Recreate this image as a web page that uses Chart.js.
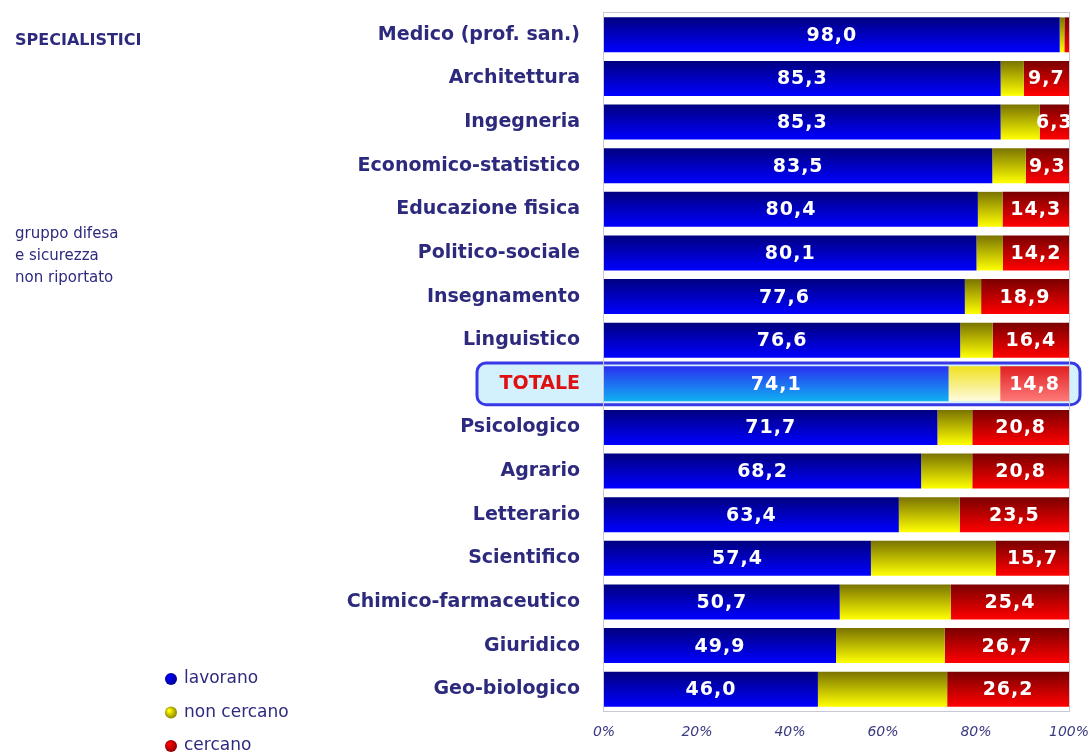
<!DOCTYPE html>
<html>
<head>
<meta charset="utf-8">
<script src="https://cdn.jsdelivr.net/npm/chart.js@4"></script>
<style>
  body { margin: 0; background: #fff; }
  canvas { display: block; }
</style>
</head>
<body>
<canvas id="chart" width="1089" height="752"></canvas>
<script>
const categories = ['Medico (prof. san.)', 'Architettura', 'Ingegneria', 'Economico-statistico',
  'Educazione fisica', 'Politico-sociale', 'Insegnamento', 'Linguistico', 'TOTALE',
  'Psicologico', 'Agrario', 'Letterario', 'Scientifico', 'Chimico-farmaceutico',
  'Giuridico', 'Geo-biologico'];
const lavorano   = [98.0, 85.3, 85.3, 83.5, 80.4, 80.1, 77.6, 76.6, 74.1, 71.7, 68.2, 63.4, 57.4, 50.7, 49.9, 46.0];
const nonCercano = [1.0, 5.0, 8.4, 7.2, 5.3, 5.7, 3.5, 7.0, 11.1, 7.5, 11.0, 13.1, 26.9, 23.9, 23.4, 27.8];
const cercano    = [1.0, 9.7, 6.3, 9.3, 14.3, 14.2, 18.9, 16.4, 14.8, 20.8, 20.8, 23.5, 15.7, 25.4, 26.7, 26.2];
const seriesNames = ['lavorano', 'non cercano', 'cercano'];
const xTicks = [0, 20, 40, 60, 80, 100];
const sideTitle = 'SPECIALISTICI';
const sideNote = ['gruppo difesa', 'e sicurezza', 'non riportato'];

const totalIndex = categories.indexOf('TOTALE');
const navy = '#2d2a7e';

// top colour / bottom colour for each series, normal rows and the TOTALE row
const shades = [
  { top: '#000080', bottom: '#0000ff', tTop: '#2a30f0', tBottom: '#10b0f2' },
  { top: '#7a7400', bottom: '#ffff00', tTop: '#f0e020', tBottom: '#fffce0' },
  { top: '#7a0000', bottom: '#ff0000', tTop: '#e02020', tBottom: '#ff7a7a' }
];

function barFill(i) {
  return (ctx) => {
    const s = shades[i];
    const chart = ctx.chart;
    const y = chart.scales.y;
    if (ctx.type !== 'data' || !y || !chart.chartArea) return s.bottom;
    const c = y.getPixelForValue(ctx.dataIndex);
    const h = y.height / categories.length * 0.8 / 2;
    const g = chart.ctx.createLinearGradient(0, c - h, 0, c + h);
    const tot = ctx.dataIndex === totalIndex;
    g.addColorStop(0, tot ? s.tTop : s.top);
    g.addColorStop(1, tot ? s.tBottom : s.bottom);
    return g;
  };
}

const fmt = (v) => v.toFixed(1).replace('.', ',');

const decor = {
  id: 'decor',
  beforeDraw(chart) {
    // rounded box behind the TOTALE row, drawn before the axis labels
    const { ctx, chartArea, scales } = chart;
    const c = scales.y.getPixelForValue(totalIndex);
    const half = scales.y.height / categories.length / 2;
    ctx.save();
    ctx.beginPath();
    ctx.roundRect(chartArea.left - 127, c - half + 1, chartArea.right - chartArea.left + 138, half * 2 - 2, 9);
    ctx.fillStyle = '#d2f1fc';
    ctx.fill();
    ctx.lineWidth = 3;
    ctx.strokeStyle = '#3838e6';
    ctx.stroke();
    ctx.restore();
  },
  afterDatasetsDraw(chart) {
    const { ctx, chartArea } = chart;
    ctx.save();
    ctx.beginPath();
    ctx.rect(chartArea.left, chartArea.top, chartArea.right - chartArea.left, chartArea.bottom - chartArea.top);
    ctx.clip();
    ctx.fillStyle = '#fff';
    ctx.font = 'bold 19px "DejaVu Sans"';
    ctx.letterSpacing = '1px';
    ctx.textAlign = 'center';
    ctx.textBaseline = 'middle';
    [0, 2].forEach((di) => {
      const meta = chart.getDatasetMeta(di);
      meta.data.forEach((bar, i) => {
        const v = chart.data.datasets[di].data[i];
        if (v < 5) return;
        const x0 = Math.min(bar.x, bar.base), x1 = Math.max(bar.x, bar.base);
        ctx.fillText(fmt(v), (x0 + x1) / 2, bar.y + 1);
      });
    });
    ctx.restore();

    ctx.save();
    ctx.strokeStyle = '#c9c9d4';
    ctx.lineWidth = 1;
    ctx.strokeRect(chartArea.left - 0.5, chartArea.top - 0.5, chartArea.right - chartArea.left + 1, chartArea.bottom - chartArea.top + 1);
    ctx.restore();
  },
  afterDraw(chart) {
    const { ctx } = chart;
    ctx.save();
    ctx.fillStyle = navy;
    ctx.textAlign = 'left';
    ctx.textBaseline = 'middle';
    ctx.font = 'bold 16px "DejaVu Sans"';
    ctx.fillText(sideTitle, 15, 41);
    ctx.font = '15px "DejaVu Sans"';
    sideNote.forEach((t, i) => ctx.fillText(t, 15, 234 + i * 22));

    ctx.font = '17px "DejaVu Sans"';
    seriesNames.forEach((name, i) => {
      const y = 679 + i * 33.5;
      const g = ctx.createRadialGradient(169, y - 2, 1, 171, y, 7);
      g.addColorStop(0, shades[i].bottom);
      g.addColorStop(1, shades[i].top);
      ctx.beginPath();
      ctx.arc(171, y, 6, 0, Math.PI * 2);
      ctx.fillStyle = g;
      ctx.fill();
      ctx.fillStyle = navy;
      ctx.fillText(name, 184, y);
    });
    ctx.restore();
  }
};

new Chart(document.getElementById('chart'), {
  type: 'bar',
  data: {
    labels: categories,
    datasets: [lavorano, nonCercano, cercano].map((d, i) => ({
      label: seriesNames[i],
      data: d,
      backgroundColor: barFill(i),
      borderWidth: 0,
      barPercentage: 0.8,
      categoryPercentage: 1.0
    }))
  },
  options: {
    indexAxis: 'y',
    responsive: false,
    animation: false,
    layout: { padding: { top: 13, right: 20, left: 0, bottom: 0 } },
    plugins: {
      legend: { display: false },
      tooltip: { enabled: false }
    },
    scales: {
      x: {
        stacked: true,
        min: 0,
        max: 100,
        afterBuildTicks: (s) => { s.ticks = xTicks.map((v) => ({ value: v })); },
        afterFit: (s) => { s.height = 41; s.paddingLeft = 0; s.paddingRight = 0; },
        grid: { display: false, drawTicks: false },
        border: { display: false },
        ticks: {
          padding: 13,
          maxRotation: 0,
          color: '#3a3a80',
          font: { family: 'DejaVu Sans', size: 14, style: 'italic' },
          callback: (v) => v + '%'
        }
      },
      y: {
        stacked: true,
        afterFit: (s) => { s.width = 604; s.paddingTop = 0; s.paddingBottom = 0; },
        grid: { display: false, drawTicks: false },
        border: { display: false },
        ticks: {
          padding: 24,
          color: (c) => c.index === totalIndex ? '#e01010' : navy,
          font: { family: 'DejaVu Sans', size: 19, weight: 'bold' }
        }
      }
    }
  },
  plugins: [decor]
});
</script>
</body>
</html>
